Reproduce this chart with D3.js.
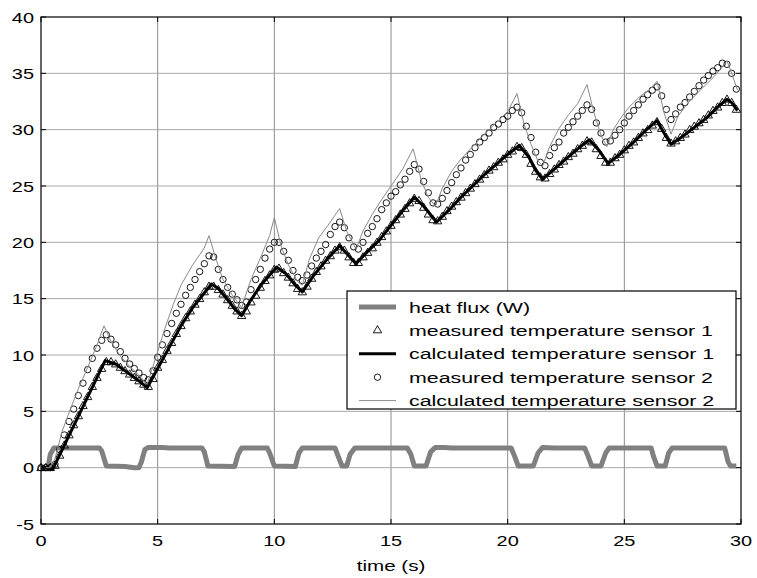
<!DOCTYPE html>
<html>
<head>
<meta charset="utf-8">
<script src="https://cdn.jsdelivr.net/npm/d3@7"></script>
<style>
  body { margin: 0; background: #fff; }
  svg text { font-family: Arial, "Liberation Sans", sans-serif; }
</style>
</head>
<body>
<svg id="chart" width="757" height="578"></svg>
<script>
// sample step of the measured series (s)
const sampleStep = 0.2;

// heat flux (W), breakpoints
const fluxTime = [0, 0.3, 0.4, 0.55, 2.5, 2.6, 2.8, 3.6, 4.0, 4.2, 4.3, 4.45, 4.6, 5.2, 5.5, 6.9, 7.0, 7.15, 8.3, 8.45, 8.6,
  9.7, 9.8, 10.0, 10.9, 11.05, 11.2, 12.6, 12.7, 12.9, 13.1, 13.25, 13.45, 15.7, 15.85, 16.0, 16.5, 16.7, 16.9, 17.3, 17.6,
  20.15, 20.3, 20.45, 21.1, 21.3, 21.5, 22.0, 23.3, 23.45, 23.6, 24.0, 24.2, 24.35, 26.15, 26.25, 26.4, 26.75, 26.9, 27.05,
  29.3, 29.45, 29.55, 29.8];
const fluxValue = [0, 0, 1.2, 1.75, 1.75, 1.5, 0.15, 0.1, 0, 0, 0.5, 1.6, 1.8, 1.8, 1.75, 1.75, 1.4, 0.15, 0.1, 1.2, 1.75,
  1.75, 1.3, 0.15, 0.1, 1.3, 1.75, 1.75, 1.2, 0.15, 0.15, 1.2, 1.75, 1.75, 1.2, 0.15, 0.15, 1.4, 1.8, 1.8, 1.75,
  1.75, 1.0, 0.15, 0.15, 1.3, 1.8, 1.75, 1.75, 1.0, 0.15, 0.15, 1.3, 1.75, 1.75, 1.0, 0.15, 0.15, 1.3, 1.75,
  1.75, 0.5, 0.15, 0.15];

// measured temperature sensor 1 (every 0.2 s from t = 0)
const measured1 = [0, 0, 0, 0.2, 1.1, 2.0, 2.9, 3.8, 4.6, 5.5, 6.3, 7.2, 8.0, 8.8, 9.4, 9.4, 9.2, 8.9, 8.6, 8.3,
  8.0, 7.7, 7.4, 7.2, 7.9, 8.9, 9.6, 10.4, 11.1, 11.9, 12.6, 13.3, 13.9, 14.5, 15.0, 15.6, 16.1, 16.1, 15.8, 15.4,
  14.9, 14.4, 13.9, 13.5, 13.9, 14.7, 15.3, 16.0, 16.6, 17.1, 17.6, 17.7, 17.3, 16.9, 16.4, 15.9, 15.6, 16.1, 16.8, 17.4,
  17.9, 18.4, 18.8, 19.3, 19.6, 19.3, 18.7, 18.2, 18.2, 18.7, 19.1, 19.5, 20.0, 20.5, 21.0, 21.5, 22.0, 22.5, 23.0, 23.5,
  23.9, 23.7, 23.1, 22.5, 22.0, 21.9, 22.3, 22.8, 23.2, 23.6, 24.0, 24.4, 24.8, 25.2, 25.6, 26.0, 26.4, 26.7, 27.1, 27.4,
  27.8, 28.1, 28.5, 28.4, 27.8, 27.0, 26.3, 25.8, 25.7, 26.1, 26.5, 26.9, 27.2, 27.6, 27.9, 28.3, 28.6, 29.0, 28.9, 28.3,
  27.7, 27.1, 27.1, 27.5, 27.8, 28.2, 28.6, 28.9, 29.3, 29.7, 30.0, 30.4, 30.7, 30.1, 29.3, 28.8, 29.0, 29.3, 29.6, 30.0,
  30.3, 30.6, 30.9, 31.3, 31.7, 32.0, 32.4, 32.7, 32.4, 31.8];

// measured temperature sensor 2 (every 0.2 s from t = 0)
const measured2 = [0, 0, 0, 0.3, 1.6, 2.9, 4.1, 5.2, 6.4, 7.5, 8.7, 9.7, 10.6, 11.3, 11.8, 11.4, 10.9, 10.3, 9.7, 9.2,
  8.8, 8.4, 8.0, 7.8, 8.6, 9.8, 10.9, 11.9, 12.8, 13.7, 14.5, 15.3, 16.0, 16.7, 17.4, 18.1, 18.8, 18.7, 17.6, 16.7,
  16.0, 15.4, 14.9, 14.4, 14.7, 15.8, 16.7, 17.6, 18.6, 19.4, 20.0, 20.0, 19.2, 18.4, 17.5, 16.9, 16.6, 17.1, 17.9, 18.6,
  19.2, 19.8, 20.7, 21.4, 21.8, 21.3, 20.4, 19.6, 19.4, 20.0, 20.8, 21.4, 22.1, 22.9, 23.5, 24.1, 24.5, 25.1, 25.6, 26.3,
  26.9, 26.5, 25.4, 24.4, 23.5, 23.4, 23.9, 24.6, 25.3, 26.0, 26.6, 27.3, 27.8, 28.4, 28.9, 29.3, 29.7, 30.2, 30.5, 30.9,
  31.2, 31.7, 32.0, 31.5, 30.3, 29.3, 28.0, 27.1, 26.8, 27.7, 28.4, 28.9, 29.7, 30.2, 30.7, 31.2, 31.7, 32.2, 31.8, 30.6,
  29.7, 28.9, 29.0, 29.5, 30.0, 30.6, 31.2, 31.7, 32.2, 32.7, 33.1, 33.5, 33.8, 33.0, 31.8, 30.9, 31.4, 32.0, 32.4, 32.9,
  33.4, 33.9, 34.4, 34.8, 35.2, 35.5, 35.9, 35.8, 35.0, 33.6];

// calculated temperature sensor 1, breakpoints
const calc1Time = [0, 0.3, 0.5, 2.75, 3.2, 3.8, 4.2, 4.55, 5.0, 5.5, 6.0, 6.5, 7.0, 7.3, 7.6, 8.0, 8.3, 8.6, 9.0, 9.5,
  10.1, 10.5, 10.9, 11.2, 11.7, 12.3, 12.8, 13.1, 13.5, 14.0, 14.5, 15.0, 15.5, 16.0, 16.4, 16.95, 17.5, 18.0, 18.5, 19.0,
  19.5, 20.0, 20.5, 20.9, 21.2, 21.5, 22.0, 22.5, 23.0, 23.5, 23.9, 24.3, 24.8, 25.4, 26.0, 26.4, 26.7, 27.0, 27.5, 28.0,
  28.5, 29.0, 29.4, 29.6, 29.85];
const calc1Value = [0, 0, -0.15, 9.5, 9.2, 8.3, 7.7, 7.1, 8.8, 10.7, 12.6, 14.2, 15.5, 16.3, 15.9, 14.9, 14.1, 13.5, 14.9, 16.4,
  17.8, 17.2, 16.2, 15.6, 17.1, 18.6, 19.7, 19.0, 18.1, 19.2, 20.2, 21.5, 22.8, 24.0, 23.2, 21.8, 22.9, 24.0, 25.0, 26.0,
  26.9, 27.8, 28.6, 27.6, 26.4, 25.6, 26.5, 27.4, 28.3, 29.1, 28.2, 27.0, 27.8, 28.9, 30.1, 30.8, 29.7, 28.7, 29.4, 30.2,
  31.0, 32.0, 32.7, 32.4, 31.7];

// calculated temperature sensor 2, breakpoints
const calc2Time = [0, 0.4, 0.6, 0.9, 1.24, 1.6, 2.0, 2.4, 2.7, 3.0, 3.4, 3.8, 4.2, 4.55, 4.8, 5.0, 5.3, 5.67, 6.0, 6.5,
  7.0, 7.2, 7.5, 7.8, 8.2, 8.6, 8.8, 9.0, 9.4, 9.8, 10.0, 10.3, 10.6, 11.0, 11.2, 11.5, 11.9, 12.4, 12.8, 13.1,
  13.5, 13.8, 14.2, 14.6, 15.0, 15.5, 15.95, 16.3, 16.6, 16.9, 17.2, 17.6, 18.0, 18.5, 19.0, 19.5, 20.0, 20.4, 20.7, 21.0,
  21.3, 21.5, 21.8, 22.2, 22.6, 23.0, 23.4, 23.7, 24.0, 24.25, 24.5, 24.8, 25.2, 25.7, 26.1, 26.4, 26.7, 27.0, 27.3, 27.7,
  28.2, 28.7, 29.1, 29.4, 29.6, 29.85];
const calc2Value = [0, 0, 0.8, 3.2, 5.1, 7.0, 8.9, 10.9, 12.6, 11.2, 9.9, 9.0, 8.2, 7.4, 9.0, 10.3, 12.3, 14.5, 16.2, 18.0,
  19.5, 20.6, 18.5, 16.7, 15.3, 14.2, 15.5, 16.7, 18.6, 20.6, 22.2, 19.6, 18.0, 16.5, 16.2, 18.5, 20.4, 21.8, 23.0, 21.0,
  19.4, 21.0, 22.5, 23.8, 25.0, 26.5, 28.3, 25.5, 24.0, 23.2, 24.8, 26.3, 27.4, 28.5, 29.6, 30.6, 31.6, 33.2, 30.5, 28.7,
  27.2, 26.8, 28.5, 30.1, 31.3, 32.3, 34.0, 31.5, 29.5, 28.5, 29.9, 30.9, 32.0, 33.0, 33.6, 34.3, 31.5, 29.6, 31.2, 32.3,
  33.4, 34.4, 35.3, 36.1, 35.0, 33.5];

const xTicks = [0, 5, 10, 15, 20, 25, 30];
const yTicks = [-5, 0, 5, 10, 15, 20, 25, 30, 35, 40];
const legendLabels = ["heat flux (W)", "measured temperature sensor 1", "calculated temperature sensor 1",
  "measured temperature sensor 2", "calculated temperature sensor 2"];

const svg = d3.select("#chart");
const plot = {left: 41, right: 741, top: 17, bottom: 524};

const x = d3.scaleLinear().domain([0, 30]).range([plot.left, plot.right]);
const y = d3.scaleLinear().domain([-5, 40]).range([plot.bottom, plot.top]);

const zip = (ts, vs) => ts.map((t, i) => [t, vs[i]]);
const sampled = vs => vs.map((v, i) => [i * sampleStep, v]);
const line = d3.line().x(d => x(d[0])).y(d => y(d[1]));

//text in the picture is wider than normal, so stretch it
function label(sel, px, py, stretch = 1.33) {
  return sel.attr("transform", `translate(${px} ${py}) scale(${stretch} 1)`);
}

//grid
svg.append("g").selectAll("line").data(xTicks.slice(1, -1)).join("line")
  .attr("x1", d => x(d)).attr("x2", d => x(d))
  .attr("y1", plot.top).attr("y2", plot.bottom)
  .attr("stroke", "#8c8c8c").attr("stroke-width", 1);
svg.append("g").selectAll("line").data(yTicks.slice(1, -1)).join("line")
  .attr("x1", plot.left).attr("x2", plot.right)
  .attr("y1", d => y(d)).attr("y2", d => y(d))
  .attr("stroke", "#a8a8a8").attr("stroke-width", 1);

//series, in plotting order
svg.append("path").datum(zip(fluxTime, fluxValue))
  .attr("d", line).attr("fill", "none")
  .attr("stroke", "#808080").attr("stroke-width", 5).attr("stroke-linejoin", "round");

const tri = d3.symbol().type(d3.symbolTriangle).size(30);
svg.append("g").selectAll("path").data(sampled(measured1)).join("path")
  .attr("d", tri)
  .attr("transform", d => `translate(${x(d[0])} ${y(d[1]) + 0.5})`)
  .attr("fill", "none").attr("stroke", "#000").attr("stroke-width", 0.9);

svg.append("path").datum(zip(calc1Time, calc1Value))
  .attr("d", line).attr("fill", "none")
  .attr("stroke", "#000").attr("stroke-width", 3).attr("stroke-linejoin", "round");

svg.append("g").selectAll("circle").data(sampled(measured2)).join("circle")
  .attr("cx", d => x(d[0])).attr("cy", d => y(d[1])).attr("r", 3.2)
  .attr("fill", "none").attr("stroke", "#000").attr("stroke-width", 0.9);

svg.append("path").datum(zip(calc2Time, calc2Value))
  .attr("d", line).attr("fill", "none")
  .attr("stroke", "#8a8a8a").attr("stroke-width", 1);

//axes box with inward ticks on all sides
svg.append("rect")
  .attr("x", plot.left).attr("y", plot.top)
  .attr("width", plot.right - plot.left).attr("height", plot.bottom - plot.top)
  .attr("fill", "none").attr("stroke", "#000").attr("stroke-width", 1.2);

const tickLen = 5;
const ticks = svg.append("g").attr("stroke", "#000").attr("stroke-width", 1);
xTicks.forEach(t => {
  ticks.append("line").attr("x1", x(t)).attr("x2", x(t)).attr("y1", plot.bottom).attr("y2", plot.bottom - tickLen);
  ticks.append("line").attr("x1", x(t)).attr("x2", x(t)).attr("y1", plot.top).attr("y2", plot.top + tickLen);
});
yTicks.forEach(t => {
  ticks.append("line").attr("x1", plot.left).attr("x2", plot.left + tickLen).attr("y1", y(t)).attr("y2", y(t));
  ticks.append("line").attr("x1", plot.right).attr("x2", plot.right - tickLen).attr("y1", y(t)).attr("y2", y(t));
});

svg.append("g").selectAll("text").data(xTicks).join("text")
  .each(function(d) { label(d3.select(this), x(d), plot.bottom + 22); })
  .attr("text-anchor", "middle").attr("font-size", 15)
  .text(d => d);
svg.append("g").selectAll("text").data(yTicks).join("text")
  .each(function(d) { label(d3.select(this), plot.left - 7, y(d) + 5.5); })
  .attr("text-anchor", "end").attr("font-size", 15)
  .text(d => d);

svg.append("text")
  .call(label, (plot.left + plot.right) / 2, 571)
  .attr("text-anchor", "middle").attr("font-size", 15.5)
  .text("time (s)");

//legend
const legend = svg.append("g");
legend.append("rect")
  .attr("x", 347).attr("y", 291).attr("width", 389).attr("height", 118)
  .attr("fill", "#fff").attr("stroke", "#000").attr("stroke-width", 1.2);

const rowY = i => 307 + i * 23.4;
legendLabels.forEach((text, i) => {
  let cy = rowY(i);
  if (i === 0) {
    legend.append("line").attr("x1", 359).attr("x2", 396).attr("y1", cy).attr("y2", cy)
      .attr("stroke", "#808080").attr("stroke-width", 5);
  } else if (i === 1) {
    legend.append("path").attr("d", tri).attr("transform", `translate(377.5 ${cy})`)
      .attr("fill", "none").attr("stroke", "#000").attr("stroke-width", 0.9);
  } else if (i === 2) {
    legend.append("line").attr("x1", 359).attr("x2", 396).attr("y1", cy).attr("y2", cy)
      .attr("stroke", "#000").attr("stroke-width", 3);
  } else if (i === 3) {
    legend.append("circle").attr("cx", 377.5).attr("cy", cy).attr("r", 3.2)
      .attr("fill", "none").attr("stroke", "#000").attr("stroke-width", 0.9);
  } else {
    legend.append("line").attr("x1", 359).attr("x2", 396).attr("y1", cy).attr("y2", cy)
      .attr("stroke", "#8a8a8a").attr("stroke-width", 1);
  }
  legend.append("text").call(label, 409, cy + 5.5, 1.38)
    .attr("font-size", 15.5).text(text);
});
</script>
</body>
</html>
